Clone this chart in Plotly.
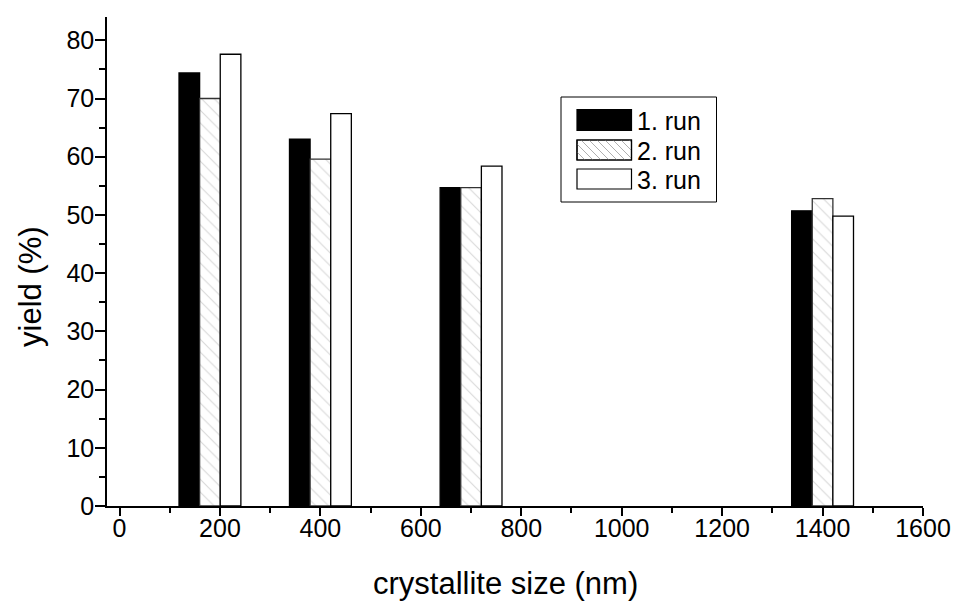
import plotly.graph_objects as go

# crystallite sizes (nm) and yields (%) for three consecutive runs
sizes = [180, 400, 700, 1400]
run1 = [74.4, 63.0, 54.7, 50.7]
run2 = [70.0, 59.6, 54.7, 52.8]
run3 = [77.6, 67.4, 58.4, 49.8]
run_names = ["1. run", "2. run", "3. run"]
x_ticks = list(range(0, 1601, 200))
y_ticks = list(range(0, 81, 10))
x_title = "crystallite size (nm)"
y_title = "yield (%)"

FONT = "Arial, Liberation Sans, sans-serif"

fig = go.Figure()
fig.add_bar(x=sizes, y=run1, name=run_names[0],
            marker=dict(color="black", line=dict(color="black", width=1.3)))
fig.add_bar(x=sizes, y=run2, name=run_names[1],
            marker=dict(color="white", line=dict(color="#333", width=1.3),
                        pattern=dict(shape="\\", fgcolor="#b0b0b0", bgcolor="white",
                                     size=9, solidity=0.12)))
fig.add_bar(x=sizes, y=run3, name=run_names[2],
            marker=dict(color="white", line=dict(color="black", width=1.3)))

# plot area in pixels (for the hand-drawn legend and titles)
L, R, T, B = 107, 35, 17, 97
W, H = 958, 603
pw, ph = W - L - R, H - T - B


def px(x):
    return (x - L) / pw


def py(y):
    return (H - B - y) / ph


shapes = []
annotations = []
# legend frame
shapes.append(dict(type="rect", xref="paper", yref="paper",
                   x0=px(561), x1=px(716.5), y0=py(97), y1=py(202),
                   line=dict(color="black", width=1), fillcolor="white", layer="above"))
sw_x0, sw_x1 = 577, 631.5
rows = [(109.5, 130.5), (140, 160), (169, 189)]
fills = ["black", "white", "white"]
for (y0, y1), fc, name in zip(rows, fills, run_names):
    shapes.append(dict(type="rect", xref="paper", yref="paper",
                       x0=px(sw_x0), x1=px(sw_x1), y0=py(y1), y1=py(y0),
                       line=dict(color="black", width=1.2), fillcolor=fc, layer="above"))
    annotations.append(dict(xref="paper", yref="paper", x=px(635), y=py((y0 + y1) / 2 + 1),
                            xanchor="left", yanchor="middle", showarrow=False, text=name,
                            font=dict(family=FONT, size=25, color="black")))
# diagonal hatch inside the second swatch
hy0, hy1 = rows[1]
hh = hy1 - hy0
step = 8
start = sw_x0 - hh
xs = start
while xs < sw_x1:
    ax0, ay0, ax1, ay1 = xs, hy0, xs + hh, hy1
    if ax0 < sw_x0:
        ay0 += sw_x0 - ax0
        ax0 = sw_x0
    if ax1 > sw_x1:
        ay1 -= ax1 - sw_x1
        ax1 = sw_x1
    if ax1 > ax0 + 0.5:
        shapes.append(dict(type="line", xref="paper", yref="paper",
                           x0=px(ax0), y0=py(ay0), x1=px(ax1), y1=py(ay1),
                           line=dict(color="#b0b0b0", width=1), layer="above"))
    xs += step
shapes.append(dict(type="rect", xref="paper", yref="paper",
                   x0=px(sw_x0), x1=px(sw_x1), y0=py(hy1), y1=py(hy0),
                   line=dict(color="black", width=1.2), layer="above"))

# axis titles
annotations.append(dict(xref="paper", yref="paper", x=px(505), y=py(583),
                        xanchor="center", yanchor="middle", showarrow=False, text=x_title,
                        font=dict(family=FONT, size=31, color="black")))
annotations.append(dict(xref="paper", yref="paper", x=px(31), y=py(287),
                        xanchor="center", yanchor="middle", showarrow=False, text=y_title,
                        textangle=-90, font=dict(family=FONT, size=31, color="black")))

fig.update_layout(
    width=W, height=H,
    margin=dict(l=L, r=R, t=T, b=B, pad=0, autoexpand=False),
    paper_bgcolor="white", plot_bgcolor="white",
    barmode="group", bargap=0.44, bargroupgap=0,
    showlegend=False,
    font=dict(family=FONT, color="black"),
    shapes=shapes, annotations=annotations,
)
fig.update_xaxes(
    range=[-25, 1600], tickvals=x_ticks, showgrid=False, zeroline=False,
    automargin=False,
    showline=True, linecolor="black", linewidth=1.5,
    ticks="outside", ticklen=8, tickwidth=1.5, tickcolor="black",
    minor=dict(dtick=100, tick0=0, ticks="outside", ticklen=5, tickwidth=1.5, tickcolor="black"),
    tickfont=dict(family=FONT, size=25, color="black"),
    ticklabelstandoff=-9,
)
fig.update_yaxes(
    range=[0, 84], tickvals=y_ticks, showgrid=False, zeroline=False,
    automargin=False,
    showline=True, linecolor="black", linewidth=1.5,
    ticks="outside", ticklen=10, tickwidth=1.5, tickcolor="black",
    minor=dict(dtick=5, tick0=0, ticks="outside", ticklen=6, tickwidth=1.5, tickcolor="black"),
    tickfont=dict(family=FONT, size=25, color="black"),
    ticklabelstandoff=-4,
)

fig.write_html("out.html")
